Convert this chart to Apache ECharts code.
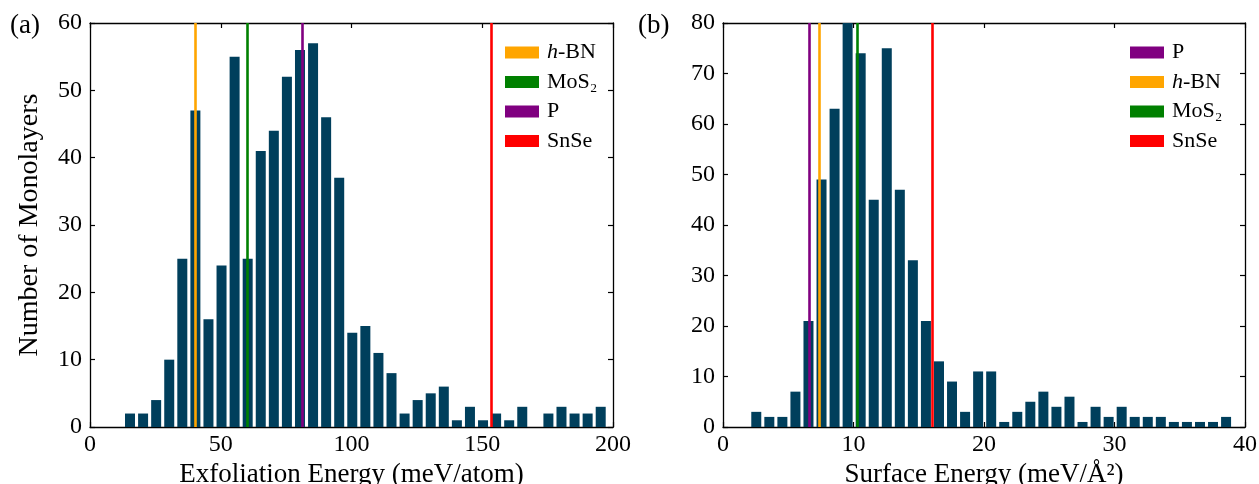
<!DOCTYPE html>
<html>
<head>
<meta charset="utf-8">
<script src="https://cdn.jsdelivr.net/npm/echarts@6/dist/echarts.min.js"></script>
<style>
html,body{margin:0;padding:0;background:#fff;}
#chart{width:1259px;height:484px;}
</style>
</head>
<body>
<div id="chart"></div>
<script>
// ---- Data ----
// (a) Exfoliation energy histogram
const exfBinCenters = [15.3, 20.3, 25.3, 30.3, 35.3, 40.3, 45.3, 50.3, 55.3, 60.3, 65.3, 70.3, 75.3, 80.3, 85.3, 90.3, 95.3, 100.3, 105.3, 110.3, 115.3, 120.3, 125.3, 130.3, 135.3, 140.3, 145.3, 150.3, 155.3, 160.3, 165.3, 170.3, 175.3, 180.3, 185.3, 190.3, 195.3];
const exfCounts = [2, 2, 4, 10, 25, 47, 16, 24, 55, 25, 41, 44, 52, 56, 57, 46, 37, 14, 15, 11, 8, 2, 4, 5, 6, 1, 3, 1, 2, 1, 3, 0, 2, 3, 2, 2, 3];
const exfRefNames = ['h-BN', 'MoS2', 'P', 'SnSe'];
const exfRefValues = [40.3, 60.2, 81.3, 153.3];

// (b) Surface energy histogram
const surfBinCenters = [2.55, 3.55, 4.55, 5.55, 6.55, 7.55, 8.55, 9.55, 10.55, 11.55, 12.55, 13.55, 14.55, 15.55, 16.55, 17.55, 18.55, 19.55, 20.55, 21.55, 22.55, 23.55, 24.55, 25.55, 26.55, 27.55, 28.55, 29.55, 30.55, 31.55, 32.55, 33.55, 34.55, 35.55, 36.55, 37.55, 38.55];
const surfCounts = [3, 2, 2, 7, 21, 49, 63, 80, 74, 45, 75, 47, 33, 21, 13, 9, 3, 11, 11, 1, 3, 5, 7, 4, 6, 1, 4, 2, 4, 2, 2, 2, 1, 1, 1, 1, 2];
const surfRefNames = ['P', 'h-BN', 'MoS2', 'SnSe'];
const surfRefValues = [6.6, 7.4, 10.25, 16.05];

// Axis ticks
const exfTicks = [0, 50, 100, 150, 200];
const exfCountTicks = [0, 10, 20, 30, 40, 50, 60];
const surfTicks = [0, 10, 20, 30, 40];
const surfCountTicks = [0, 10, 20, 30, 40, 50, 60, 70, 80];

const refColors = { 'h-BN': '#FFA500', 'MoS2': '#008000', 'P': '#800080', 'SnSe': '#FF0000' };
const barColor = '#003f5c';
const FONT = 'Liberation Serif';

// ---- Layout ----
const grids = [
  { left: 90, top: 23, width: 523, height: 404, outerBoundsMode: 'none', containLabel: false },
  { left: 723, top: 23, width: 522, height: 404, outerBoundsMode: 'none', containLabel: false }
];

function mkX(gridIndex, ticks, pos, name) {
  const isBottom = pos === 'bottom';
  return {
    type: 'value', gridIndex: gridIndex, position: pos,
    min: ticks[0], max: ticks[ticks.length - 1], interval: ticks[1] - ticks[0],
    axisLine: { show: true, onZero: false, lineStyle: { color: '#000', width: 1.3 } },
    axisTick: { show: true, inside: true, length: 5, lineStyle: { color: '#000', width: 1.2 } },
    axisLabel: { show: isBottom, color: '#000', fontFamily: FONT, fontSize: 24, margin: 6 },
    splitLine: { show: false },
    name: isBottom ? name : '',
    nameLocation: 'middle', nameGap: 32,
    nameTextStyle: { color: '#000', fontFamily: FONT, fontSize: 27 }
  };
}
function mkY(gridIndex, ticks, pos, name) {
  const isLeft = pos === 'left';
  return {
    type: 'value', gridIndex: gridIndex, position: pos,
    min: ticks[0], max: ticks[ticks.length - 1], interval: ticks[1] - ticks[0],
    axisLine: { show: true, onZero: false, lineStyle: { color: '#000', width: 1.3 } },
    axisTick: { show: true, inside: true, length: 5, lineStyle: { color: '#000', width: 1.2 } },
    axisLabel: { show: isLeft, color: '#000', fontFamily: FONT, fontSize: 24, margin: 8 },
    splitLine: { show: false },
    name: isLeft ? (name || '') : '',
    nameLocation: 'middle', nameGap: 46,
    nameTextStyle: { color: '#000', fontFamily: FONT, fontSize: 28 }
  };
}

const xAxes = [
  mkX(0, exfTicks, 'bottom', 'Exfoliation Energy (meV/atom)'),
  mkX(0, exfTicks, 'top'),
  mkX(1, surfTicks, 'bottom', 'Surface Energy (meV/Å²)'),
  mkX(1, surfTicks, 'top')
];
const yAxes = [
  mkY(0, exfCountTicks, 'left', 'Number of Monolayers'),
  mkY(0, exfCountTicks, 'right'),
  mkY(1, surfCountTicks, 'left'),
  mkY(1, surfCountTicks, 'right')
];

const series = [];
function addPanel(xi, yi, centers, counts, refNames, refValues) {
  refNames.forEach(function (nm, i) {
    const c = refColors[nm];
    series.push({
      name: nm, type: 'line', xAxisIndex: xi, yAxisIndex: yi, data: [],
      z: 1, silent: true,
      itemStyle: { color: c }, lineStyle: { color: c },
      markLine: {
        silent: true, symbol: ['none', 'none'], animation: false,
        label: { show: false },
        lineStyle: { color: c, width: 2.6, type: 'solid' },
        emphasis: { disabled: true },
        data: [{ xAxis: refValues[i] }]
      }
    });
  });
  series.push({
    type: 'bar', xAxisIndex: xi, yAxisIndex: yi, z: 3,
    barWidth: 10, silent: true,
    itemStyle: { color: barColor },
    data: centers.map(function (x, i) { return [x, counts[i]]; })
  });
}
addPanel(0, 0, exfBinCenters, exfCounts, exfRefNames, exfRefValues);
addPanel(2, 2, surfBinCenters, surfCounts, surfRefNames, surfRefValues);

const legendRich = {
  it: { fontStyle: 'italic', fontFamily: FONT, fontSize: 22, color: '#000', lineHeight: 22 },
  n: { fontFamily: FONT, fontSize: 22, color: '#000', lineHeight: 22 }
};
function legendFmt(name) {
  if (name === 'h-BN') return '{it|h}{n|-BN}';
  if (name === 'MoS2') return '{n|MoS\u2082}';
  return '{n|' + name + '}';
}
function mkLegend(names, left) {
  return {
    data: names, left: left, top: 41.5, orient: 'vertical', padding: 0,
    icon: 'rect', itemWidth: 34, itemHeight: 12, itemGap: 7.5,
    selectedMode: false,
    formatter: legendFmt,
    textStyle: { fontFamily: FONT, fontSize: 22, color: '#000', lineHeight: 22, padding: [0, 0, 0, 3], rich: legendRich }
  };
}

const option = {
  animation: false,
  backgroundColor: '#fff',
  grid: grids,
  xAxis: xAxes,
  yAxis: yAxes,
  legend: [mkLegend(exfRefNames, 505), mkLegend(surfRefNames, 1130)],
  graphic: [
    { type: 'text', left: 10, top: 12, style: { text: '(a)', font: '27px "Liberation Serif"', fill: '#000' } },
    { type: 'text', left: 638, top: 12, style: { text: '(b)', font: '27px "Liberation Serif"', fill: '#000' } }
  ],
  series: series
};

const chart = echarts.init(document.getElementById('chart'), null, { renderer: 'canvas' });
chart.setOption(option);
</script>
</body>
</html>
